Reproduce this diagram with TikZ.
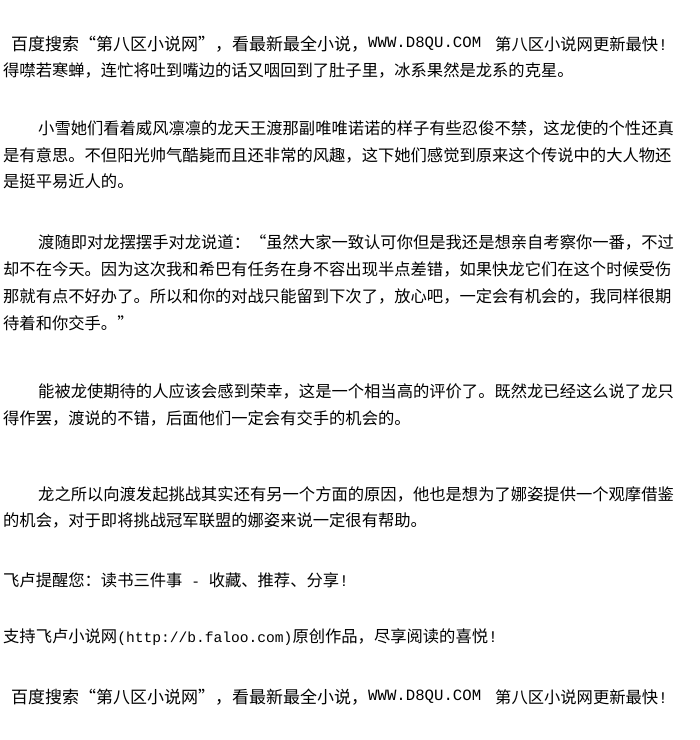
\documentclass[tikz,border=0pt]{standalone}
\usepackage{fontspec}
\setmainfont{Noto Sans CJK SC}
\newfontfamily\asciifont{Liberation Mono}
\XeTeXlinebreaklocale "zh"
\XeTeXlinebreakskip=0pt plus 1pt
\newcommand{\fullline}[1]{\makebox[689pt][s]{#1}}
\newcommand{\firstline}[1]{\makebox[654pt][s]{#1}}
\begin{document}
\begin{tikzpicture}[x=1pt, y=-1pt,
		textline/.style={anchor=west, inner sep=0pt, font=\fontsize{16.3}{16.3}\selectfont},
		adline/.style={anchor=west, inner sep=0pt, font=\fontsize{17}{17}\selectfont},
		latin/.style={anchor=west, inner sep=0pt, font=\fontsize{15.7}{15.7}\asciifont}]

		\useasboundingbox (0,0) rectangle (700,740);

		\node[adline] (adtop) at (11,44) {百度搜索“第八区小说网”，看最新最全小说，};
		\node[latin] (adtopurl) at (368,44) {WWW.D8QU.COM};
		\node[textline] (adtoptail) at (495,44) {第八区小说网更新最快{\asciifont!}};
		\node[textline] (carry) at (3,70) {得噤若寒蝉，连忙将吐到嘴边的话又咽回到了肚子里，冰系果然是龙系的克星。};

		\node[textline] (xuea) at (38,128) {\firstline{小雪她们看着威风凛凛的龙天王渡那副唯唯诺诺的样子有些忍俊不禁，这龙使的个性还真}};
		\node[textline] (xueb) at (3,155) {\fullline{是有意思。不但阳光帅气酷毙而且还非常的风趣，这下她们感觉到原来这个传说中的大人物还}};
		\node[textline] (xuec) at (3,181) {是挺平易近人的。};

		\node[textline] (dua) at (38,242) {\firstline{渡随即对龙摆摆手对龙说道：“虽然大家一致认可你但是我还是想亲自考察你一番，不过}};
		\node[textline] (dub) at (3,269) {\fullline{却不在今天。因为这次我和希巴有任务在身不容出现半点差错，如果快龙它们在这个时候受伤}};
		\node[textline] (duc) at (3,296) {\fullline{那就有点不好办了。所以和你的对战只能留到下次了，放心吧，一定会有机会的，我同样很期}};
		\node[textline] (dud) at (3,323) {待着和你交手。”};

		\node[textline] (nenga) at (38,391) {\firstline{能被龙使期待的人应该会感到荣幸，这是一个相当高的评价了。既然龙已经这么说了龙只}};
		\node[textline] (nengb) at (3,418) {得作罢，渡说的不错，后面他们一定会有交手的机会的。};

		\node[textline] (longa) at (38,494) {\firstline{龙之所以向渡发起挑战其实还有另一个方面的原因，他也是想为了娜姿提供一个观摩借鉴}};
		\node[textline] (longb) at (3,520) {的机会，对于即将挑战冠军联盟的娜姿来说一定很有帮助。};

		\node[textline] (remind) at (3,580) {飞卢提醒您：读书三件事{\fontsize{14.6}{14.6}\asciifont\ -\ }收藏、推荐、分享{\asciifont!}};
		\node[textline] (support) at (3,637) {支持飞卢小说网{\fontsize{14.6}{14.6}\asciifont(http://b.faloo.com)}原创作品，尽享阅读的喜悦{\asciifont!}};

		\node[adline] (adbottom) at (11,697) {百度搜索“第八区小说网”，看最新最全小说，};
		\node[latin] (adbottomurl) at (368,697) {WWW.D8QU.COM};
		\node[textline] (adbottomtail) at (495,697) {第八区小说网更新最快{\asciifont!}};

	\end{tikzpicture}
\end{document}
